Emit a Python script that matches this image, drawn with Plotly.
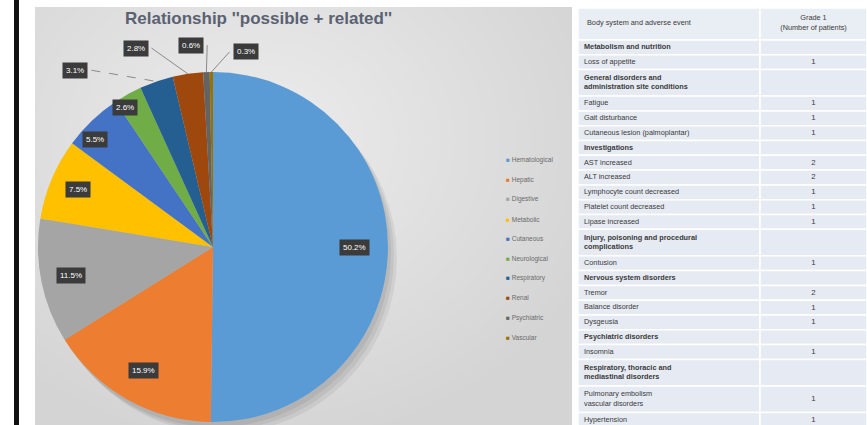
import math
import plotly.graph_objects as go

W, H = 867, 425

# ---- pie data -------------------------------------------------------------
categories = ["Hematological", "Hepatic", "Digestive", "Metabolic", "Cutaneous",
              "Neurological", "Respiratory", "Renal", "Psychiatric", "Vascular"]
shares = [50.2, 15.9, 11.5, 7.5, 5.5, 2.6, 3.1, 2.8, 0.6, 0.3]
colors = ["#5b9bd5", "#ed7d31", "#a5a5a5", "#ffc000", "#4472c4",
          "#70ad47", "#255e91", "#9e480e", "#636363", "#997300"]

# ---- table data -----------------------------------------------------------
table_header = ["Body system and adverse event", "Grade 1<br>(Number of patients)"]
events = [
    "<b>Metabolism and nutrition</b>",
    "Loss of appetite",
    "<b>General disorders and<br>administration site conditions</b>",
    "Fatigue",
    "Gait disturbance",
    "Cutaneous lesion (palmoplantar)",
    "<b>Investigations</b>",
    "AST increased",
    "ALT increased",
    "Lymphocyte count decreased",
    "Platelet count decreased",
    "Lipase increased",
    "<b>Injury, poisoning and procedural<br>complications</b>",
    "Contusion",
    "<b>Nervous system disorders</b>",
    "Tremor",
    "Balance disorder",
    "Dysgeusia",
    "<b>Psychiatric disorders</b>",
    "Insomnia",
    "<b>Respiratory, thoracic and<br>mediastinal disorders</b>",
    "Pulmonary embolism<br>vascular disorders",
    "Hypertension",
]
patients = ["", "1", "", "1", "1", "1", "", "2", "2", "1", "1", "1", "", "1",
            "", "2", "1", "1", "", "1", "", "1", "1"]


def px(x):
    return x / W


def py(y):
    return 1 - y / H


FONT = "Liberation Sans, Arial"

# pie geometry (pixels)
CX, CY, R = 213, 247, 175

fig = go.Figure()

fig.add_trace(go.Pie(
    labels=categories,
    values=shares,
    sort=False,
    direction="clockwise",
    rotation=0,
    marker=dict(colors=colors, line=dict(width=0)),
    textinfo="none",
    hoverinfo="label+percent",
    showlegend=False,
    domain=dict(x=[px(CX - R), px(CX + R)], y=[py(CY + R), py(CY - R)]),
))

# ---- table drawn on its own hidden axis pair (units = pixels) -------------
TABLE_LEFT, TABLE_TOP = 578, 8
col_w = [182, 107]
header_h, single_h, double_h = 32, 14.8, 26.5

row_top, row_h = [], []
y = header_h
for txt in events:
    h = double_h if "<br>" in txt else single_h
    row_top.append(y)
    row_h.append(h)
    y += h

shapes = []

# chart panel with a soft radial shading
shapes.append(dict(type="rect", xref="paper", yref="paper", layer="below",
                   x0=px(35), x1=px(572), y0=0, y1=py(7),
                   fillcolor="#d4d4d4", line=dict(width=0)))
for k in range(22):
    rx = 360 - k * 15
    ry = 300 - k * 12.5
    gx, gy = 260, 140
    shapes.append(dict(type="circle", xref="paper", yref="paper", layer="below",
                       x0=px(gx - rx), x1=px(gx + rx),
                       y0=py(gy + ry), y1=py(gy - ry),
                       fillcolor="white", opacity=0.045, line=dict(width=0)))
# mask the shading outside the panel
shapes.append(dict(type="rect", xref="paper", yref="paper", layer="below",
                   x0=0, x1=px(35), y0=0, y1=1, fillcolor="white", line=dict(width=0)))
shapes.append(dict(type="rect", xref="paper", yref="paper", layer="below",
                   x0=px(572), x1=1, y0=0, y1=1, fillcolor="white", line=dict(width=0)))
shapes.append(dict(type="rect", xref="paper", yref="paper", layer="below",
                   x0=0, x1=1, y0=py(7), y1=1, fillcolor="white", line=dict(width=0)))
# separator bar on the far left
shapes.append(dict(type="rect", xref="paper", yref="paper", layer="below",
                   x0=px(14), x1=px(19), y0=0, y1=1,
                   fillcolor="#111111", line=dict(width=0)))
# soft shadow under the pie, falling to the lower right
for off in [(9, 11), (6, 8), (3, 5)]:
    shapes.append(dict(type="circle", xref="paper", yref="paper", layer="below",
                       x0=px(CX - R + off[0]), x1=px(CX + R + off[0]),
                       y0=py(CY + R + off[1]), y1=py(CY - R + off[1]),
                       fillcolor="#000000", opacity=0.06, line=dict(width=0)))

# table cells
col_x = [0, col_w[0], col_w[0] + col_w[1]]
cell_style = dict(type="rect", xref="x2", yref="y2", layer="below",
                  line=dict(color="white", width=1.5))
for c in range(2):
    shapes.append(dict(cell_style, x0=col_x[c], x1=col_x[c + 1], y0=0, y1=header_h,
                       fillcolor="#e9edf4"))
    for top, h in zip(row_top, row_h):
        shapes.append(dict(cell_style, x0=col_x[c], x1=col_x[c + 1], y0=top, y1=top + h,
                           fillcolor="#e6eaf2"))

row_mid = [t + h / 2 for t, h in zip(row_top, row_h)]
fig.add_trace(go.Scatter(
    x=[6] * len(events), y=row_mid, text=events, mode="text",
    textposition="middle right", xaxis="x2", yaxis="y2",
    textfont=dict(family=FONT, size=7.3, color="#3a3a3a"),
    hoverinfo="skip", showlegend=False,
))
vals = [(m, v) for m, v in zip(row_mid, patients) if v]
fig.add_trace(go.Scatter(
    x=[col_w[0] + col_w[1] / 2] * len(vals), y=[m for m, _ in vals],
    text=[v for _, v in vals], mode="text", textposition="middle center",
    xaxis="x2", yaxis="y2",
    textfont=dict(family=FONT, size=7.8, color="#3a3a3a"),
    hoverinfo="skip", showlegend=False,
))
fig.add_trace(go.Scatter(
    x=[9, col_w[0] + col_w[1] / 2], y=[header_h / 2 - 1, header_h / 2 - 1],
    text=table_header, mode="text", textposition=["middle right", "middle center"],
    xaxis="x2", yaxis="y2",
    textfont=dict(family=FONT, size=7.3, color="#3a3a3a"),
    hoverinfo="skip", showlegend=False,
))

annotations = []
annotations.append(dict(
    text="<b>Relationship ''possible + related''</b>", x=px(258), y=py(18),
    xref="paper", yref="paper", showarrow=False, xanchor="center", yanchor="middle",
    font=dict(family=FONT, size=17, color="#5a6272"),
))

# data labels: inner labels sit on the slice's mid-angle,
# small slices get call-outs with leader lines
label_radius = [0.81, 0.81, 0.83, 0.84, 0.91, 0.94, 1.28, 1.22, 1.16, 1.13]
label_angle_shift = [0, 0, 0, 0, -4, -3, -19, -13, -4, 10]
leader_dash = [None] * 6 + ["dash", "solid", "solid", "solid"]
total = sum(shares)
cum = 0.0
for i, v in enumerate(shares):
    mid = (cum + v / 2) / total * 360
    cum += v
    ang = math.radians(mid + label_angle_shift[i])
    r = R * label_radius[i]
    lx = CX + r * math.sin(ang)
    ly = CY - r * math.cos(ang)
    if leader_dash[i]:
        ea = math.radians(mid)
        ex = CX + R * math.sin(ea)
        ey = CY - R * math.cos(ea)
        if abs(lx - ex) < 8:
            sx, sy = lx, ly + 7
        else:
            sx, sy = lx + (16 if lx < ex else -16), ly
        shapes.append(dict(type="line", xref="paper", yref="paper",
                           x0=px(sx), y0=py(sy), x1=px(ex), y1=py(ey),
                           line=dict(color="#8a8a8a", width=1, dash=leader_dash[i])))
    annotations.append(dict(
        text=f"{v:.1f}%", x=px(lx), y=py(ly), xref="paper", yref="paper",
        showarrow=False, xanchor="center", yanchor="middle",
        bgcolor="#3b3b3b", borderpad=3,
        font=dict(family=FONT, size=8, color="white"),
    ))

# legend built from the category list
for i, (name, col) in enumerate(zip(categories, colors)):
    ly = 160 + i * 19.7
    annotations.append(dict(
        text=f'<span style="color:{col}">■</span> {name}',
        x=px(504), y=py(ly), xref="paper", yref="paper", showarrow=False,
        xanchor="left", yanchor="middle",
        font=dict(family=FONT, size=6.5, color="#6a6a6a"),
    ))

table_w = W - TABLE_LEFT
table_h = H - TABLE_TOP
fig.update_layout(
    width=W, height=H,
    margin=dict(l=0, r=0, t=0, b=0),
    paper_bgcolor="white",
    plot_bgcolor="rgba(0,0,0,0)",
    xaxis2=dict(domain=[px(TABLE_LEFT), 1], range=[0, table_w], visible=False,
                anchor="y2", fixedrange=True),
    yaxis2=dict(domain=[0, py(TABLE_TOP)], range=[table_h, 0], visible=False,
                anchor="x2", fixedrange=True),
    shapes=shapes,
    annotations=annotations,
    showlegend=False,
)

fig.write_html("out.html")
